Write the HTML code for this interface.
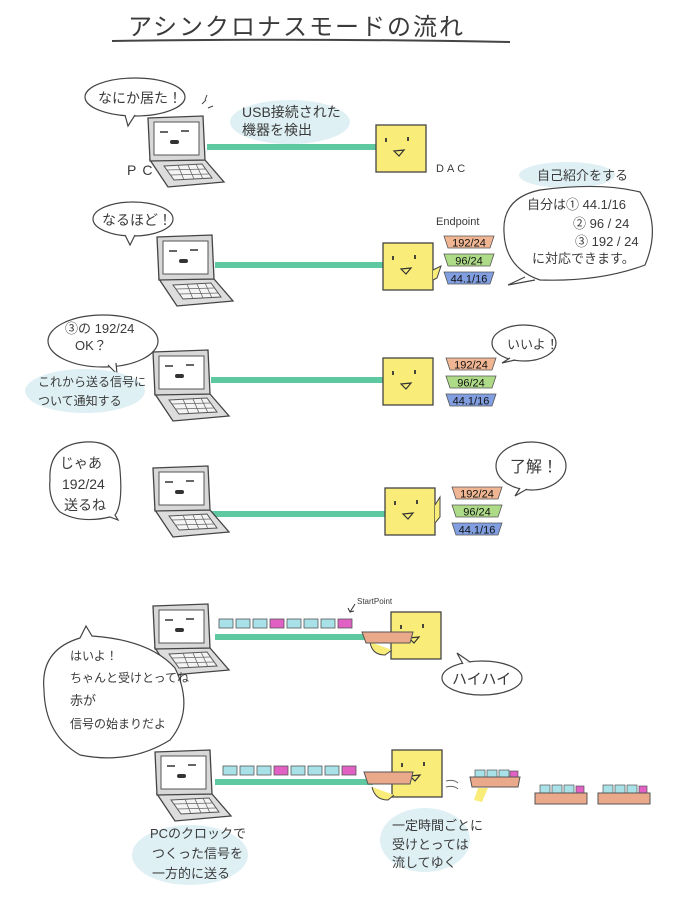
<!DOCTYPE html>
<html><head><meta charset="utf-8"><style>
html,body{margin:0;padding:0;background:#fff}
svg{display:block}
text{font-family:"Liberation Sans","Noto Sans CJK JP",sans-serif;fill:#333}
.hw{font-family:"Liberation Sans","Noto Sans CJK JP",sans-serif;fill:#3a3a3a}
.ep{font-size:11px;fill:#111}
</style></head><body>
<svg width="675" height="900" viewBox="0 0 675 900" xmlns="http://www.w3.org/2000/svg">
<defs>
<g id="lap">
  <polygon points="2,42 57,42 76,64 20,69" fill="#ddd" stroke="#444" stroke-width="1.3"/>
  <polygon points="16,48 54,46 64,60 26,62" fill="#f4f4f4" stroke="#555" stroke-width="1"/>
  <line x1="19" y1="52" x2="58" y2="51" stroke="#666" stroke-width=".8"/>
  <line x1="22" y1="57" x2="61" y2="56" stroke="#666" stroke-width=".8"/>
  <line x1="30" y1="47" x2="36" y2="62" stroke="#666" stroke-width=".8"/>
  <line x1="40" y1="47" x2="46" y2="61" stroke="#666" stroke-width=".8"/>
  <line x1="48" y1="46" x2="55" y2="61" stroke="#666" stroke-width=".8"/>
  <polygon points="0,0 55,-2 57,42 2,43" fill="#d8d8d8" stroke="#444" stroke-width="1.3"/>
  <rect x="6" y="4" width="45" height="33" fill="#fff" stroke="#555" stroke-width="1"/>
  <line x1="12" y1="14" x2="20" y2="14" stroke="#333" stroke-width="1.5"/>
  <line x1="33" y1="13" x2="41" y2="13" stroke="#333" stroke-width="1.5"/>
  <rect x="22" y="22" width="9" height="4" rx="2" fill="#333"/>
</g>
<g id="dac">
  <rect x="0" y="0" width="50" height="47" fill="#f9ec78" stroke="#444" stroke-width="1.3"/>
  <line x1="10" y1="13" x2="10" y2="17" stroke="#333" stroke-width="1.8"/>
  <line x1="32" y1="12" x2="32" y2="16" stroke="#333" stroke-width="1.8"/>
  <polygon points="18,26 28,25 23,31" fill="none" stroke="#333" stroke-width="1.2"/>
</g>
<g id="eps">
  <polygon points="0,0 50,0 46,12 4,12" fill="#f0b592" stroke="#555" stroke-width=".8"/>
  <text x="25" y="10.5" text-anchor="middle" class="ep">192/24</text>
  <polygon points="0,18 50,18 46,30 4,30" fill="#aedb88" stroke="#555" stroke-width=".8"/>
  <text x="25" y="28.5" text-anchor="middle" class="ep">96/24</text>
  <polygon points="0,36 50,36 46,48 4,48" fill="#819fe0" stroke="#555" stroke-width=".8"/>
  <text x="25" y="46.5" text-anchor="middle" class="ep">44.1/16</text>
</g>
<g id="pk">
  <rect x="0" y="0" width="14" height="9" fill="#a8e2e8" stroke="#555" stroke-width=".8"/>
  <rect x="17" y="0" width="14" height="9" fill="#a8e2e8" stroke="#555" stroke-width=".8"/>
  <rect x="34" y="0" width="14" height="9" fill="#a8e2e8" stroke="#555" stroke-width=".8"/>
  <rect x="51" y="0" width="14" height="9" fill="#e060c4" stroke="#555" stroke-width=".8"/>
  <rect x="68" y="0" width="14" height="9" fill="#a8e2e8" stroke="#555" stroke-width=".8"/>
  <rect x="85" y="0" width="14" height="9" fill="#a8e2e8" stroke="#555" stroke-width=".8"/>
  <rect x="102" y="0" width="14" height="9" fill="#a8e2e8" stroke="#555" stroke-width=".8"/>
  <rect x="119" y="0" width="14" height="9" fill="#e060c4" stroke="#555" stroke-width=".8"/>
</g>
</defs>

<!-- title -->
<text x="128" y="35" font-size="24" letter-spacing="2" class="hw">アシンクロナスモードの流れ</text>
<path d="M112,41 Q300,38 510,42" stroke="#444" stroke-width="2" fill="none"/>

<!-- section 1 -->
<ellipse cx="135" cy="97" rx="50" ry="19" fill="#fff" stroke="#444" stroke-width="1.2"/>
<path d="M125,115 L128,126 L135,115" fill="#fff" stroke="#444" stroke-width="1.2"/>
<text x="98" y="103" font-size="14" class="hw">なにか居た！</text>
<path d="M202,104 l4,-4 M208,108 l5,-2 M205,100 l2,-5" stroke="#444"/>
<ellipse cx="290" cy="122" rx="60" ry="22" fill="#dff0f4"/>
<text x="242" y="117" font-size="14" class="hw">USB接続された</text>
<text x="242" y="135" font-size="14" class="hw">機器を検出</text>
<rect x="207" y="144" width="170" height="6" fill="#5ec9a0"/>
<use href="#lap" x="148" y="118"/>
<text x="127" y="175" font-size="14" letter-spacing="6" class="hw">PC</text>
<use href="#dac" x="376" y="125"/>
<text x="436" y="172" font-size="11" letter-spacing="3" class="hw">DAC</text>

<!-- section 2 -->
<ellipse cx="133" cy="219" rx="40" ry="17" fill="#fff" stroke="#444" stroke-width="1.2"/>
<path d="M125,235 L130,245 L135,235" fill="#fff" stroke="#444" stroke-width="1.2"/>
<text x="102" y="225" font-size="14" class="hw">なるほど！</text>
<rect x="215" y="262" width="170" height="6" fill="#5ec9a0"/>
<use href="#lap" x="157" y="237"/>
<use href="#dac" x="383" y="243"/>
<path d="M433,270 l8,-4 l-4,12 l-4,2" fill="#f9ec78" stroke="#444"/>
<text x="436" y="225" font-size="11" class="hw">Endpoint</text>
<use href="#eps" x="444" y="236"/>
<ellipse cx="567" cy="175" rx="48" ry="13" fill="#dff0f4"/>
<text x="537" y="180" font-size="13" class="hw">自己紹介をする</text>
<path d="M504,232 Q502,198 540,190 Q600,182 640,192 Q662,225 645,265 Q600,282 540,280 Q505,268 504,232 Z" fill="#fff" stroke="#444" stroke-width="1.2"/>
<path d="M525,277 L508,285 L535,280" fill="#fff" stroke="#444" stroke-width="1.2"/>
<text x="527" y="209" font-size="13" class="hw">自分は① 44.1/16</text>
<text x="573" y="228" font-size="13" class="hw">② 96 / 24</text>
<text x="575" y="246" font-size="13" class="hw">③ 192 / 24</text>
<text x="532" y="263" font-size="13" class="hw">に対応できます。</text>

<!-- section 3 -->
<ellipse cx="103" cy="341" rx="55" ry="26" fill="#fff" stroke="#444" stroke-width="1.2"/>
<path d="M108,365 L117,374 L116,363" fill="#fff" stroke="#444" stroke-width="1.2"/>
<text x="65" y="333" font-size="13" class="hw">③の 192/24</text>
<text x="75" y="350" font-size="13" class="hw">OK？</text>
<ellipse cx="85" cy="391" rx="60" ry="22" fill="#dff0f4"/>
<text x="38" y="386" font-size="12" class="hw">これから送る信号に</text>
<text x="38" y="405" font-size="12" class="hw">ついて通知する</text>
<rect x="211" y="377" width="175" height="6" fill="#5ec9a0"/>
<use href="#lap" x="153" y="352"/>
<use href="#dac" x="383" y="358"/>
<use href="#eps" x="446" y="358"/>
<ellipse cx="524" cy="343" rx="32" ry="18" fill="#fff" stroke="#444" stroke-width="1.2"/>
<path d="M510,358 L502,363 L515,360" fill="#fff" stroke="#444" stroke-width="1.2"/>
<text x="507" y="349" font-size="13" class="hw">いいよ！</text>

<!-- section 4 -->
<path d="M50,480 Q48,445 85,442 Q118,440 120,470 Q123,505 115,515 L118,520 L110,517 Q80,524 60,512 Q48,500 50,480 Z" fill="#fff" stroke="#444" stroke-width="1.2"/>
<text x="60" y="468" font-size="14" class="hw">じゃあ</text>
<text x="62" y="489" font-size="14" class="hw">192/24</text>
<text x="64" y="510" font-size="14" class="hw">送るね</text>
<rect x="211" y="511" width="178" height="6" fill="#5ec9a0"/>
<use href="#lap" x="153" y="468"/>
<use href="#dac" x="385" y="488"/>
<path d="M435,505 l5,-8 l0,20 l-5,6" fill="#f9ec78" stroke="#444"/>
<use href="#eps" x="452" y="487"/>
<ellipse cx="531" cy="466" rx="35" ry="24" fill="#fff" stroke="#444" stroke-width="1.2"/>
<path d="M520,488 L515,496 L527,489" fill="#fff" stroke="#444" stroke-width="1.2"/>
<text x="510" y="472" font-size="16" class="hw">了解！</text>

<!-- section 5 -->
<rect x="215" y="634" width="155" height="6" fill="#5ec9a0"/>
<use href="#lap" x="153" y="606"/>
<path d="M44,690 Q40,650 80,638 L86,626 L92,636 Q150,640 175,668 Q195,710 170,740 Q130,765 80,755 Q45,735 44,690 Z" fill="#fff" stroke="#444" stroke-width="1.2"/>
<text x="70" y="660" font-size="12" class="hw">はいよ！</text>
<text x="70" y="682" font-size="12" class="hw">ちゃんと受けとってね</text>
<text x="70" y="705" font-size="13" class="hw">赤が</text>
<text x="70" y="728" font-size="12" class="hw">信号の始まりだよ</text>
<use href="#pk" x="219" y="619"/>
<text x="357" y="604" font-size="8" class="hw">StartPoint</text>
<path d="M355,604 L350,612 M348,608 l2,4 l4,-1" stroke="#333" fill="none"/>
<use href="#dac" x="391" y="612"/>
<path d="M370,642 Q372,655 385,655 L392,650" fill="#f9ec78" stroke="#444"/>
<polygon points="362,632 413,632 410,643 366,643" fill="#eaa98a" stroke="#555"/>
<ellipse cx="482" cy="678" rx="40" ry="17" fill="#fff" stroke="#444" stroke-width="1.2"/>
<path d="M463,664 L457,653 L470,662" fill="#fff" stroke="#444" stroke-width="1.2"/>
<text x="452" y="684" font-size="15" class="hw">ハイハイ</text>

<!-- section 6 -->
<rect x="215" y="779" width="158" height="6" fill="#5ec9a0"/>
<use href="#lap" x="155" y="752"/>
<use href="#pk" x="223" y="766"/>
<use href="#dac" x="392" y="750"/>
<path d="M372,787 Q375,800 388,800 L394,795" fill="#f9ec78" stroke="#444"/>
<polygon points="364,772 413,772 410,784 368,784" fill="#eaa98a" stroke="#555"/>
<path d="M446,781 q8,-2 12,2 M446,787 q8,-2 12,2" stroke="#666" fill="none"/>
<path d="M478,788 l10,0 l-6,14 l-8,-2 Z" fill="#f9ec78"/>
<rect x="475" y="770" width="10" height="7" fill="#a8e2e8" stroke="#555" stroke-width=".7"/>
<rect x="487" y="770" width="10" height="7" fill="#a8e2e8" stroke="#555" stroke-width=".7"/>
<rect x="499" y="770" width="10" height="7" fill="#a8e2e8" stroke="#555" stroke-width=".7"/>
<rect x="510" y="771" width="8" height="7" fill="#e060c4" stroke="#555" stroke-width=".7"/>
<polygon points="470,777 520,777 518,787 472,787" fill="#eaa98a" stroke="#555"/>
<rect x="540" y="785" width="10" height="9" fill="#a8e2e8" stroke="#555" stroke-width=".7"/>
<rect x="552" y="785" width="10" height="9" fill="#a8e2e8" stroke="#555" stroke-width=".7"/>
<rect x="564" y="785" width="10" height="9" fill="#a8e2e8" stroke="#555" stroke-width=".7"/>
<rect x="576" y="786" width="8" height="8" fill="#e060c4" stroke="#555" stroke-width=".7"/>
<rect x="535" y="793" width="52" height="11" fill="#eaa98a" stroke="#555"/>
<rect x="603" y="785" width="10" height="9" fill="#a8e2e8" stroke="#555" stroke-width=".7"/>
<rect x="615" y="785" width="10" height="9" fill="#a8e2e8" stroke="#555" stroke-width=".7"/>
<rect x="627" y="785" width="10" height="9" fill="#a8e2e8" stroke="#555" stroke-width=".7"/>
<rect x="639" y="786" width="8" height="8" fill="#e060c4" stroke="#555" stroke-width=".7"/>
<rect x="598" y="793" width="52" height="11" fill="#eaa98a" stroke="#555"/>
<ellipse cx="190" cy="855" rx="58" ry="30" fill="#dff0f4"/>
<text x="150" y="838" font-size="13" class="hw">PCのクロックで</text>
<text x="152" y="858" font-size="13" class="hw">つくった信号を</text>
<text x="152" y="878" font-size="13" class="hw">一方的に送る</text>
<ellipse cx="425" cy="840" rx="45" ry="32" fill="#dff0f4"/>
<text x="392" y="830" font-size="13" class="hw">一定時間ごとに</text>
<text x="392" y="849" font-size="13" class="hw">受けとっては</text>
<text x="392" y="867" font-size="13" class="hw">流してゆく</text>
</svg>
</body></html>
